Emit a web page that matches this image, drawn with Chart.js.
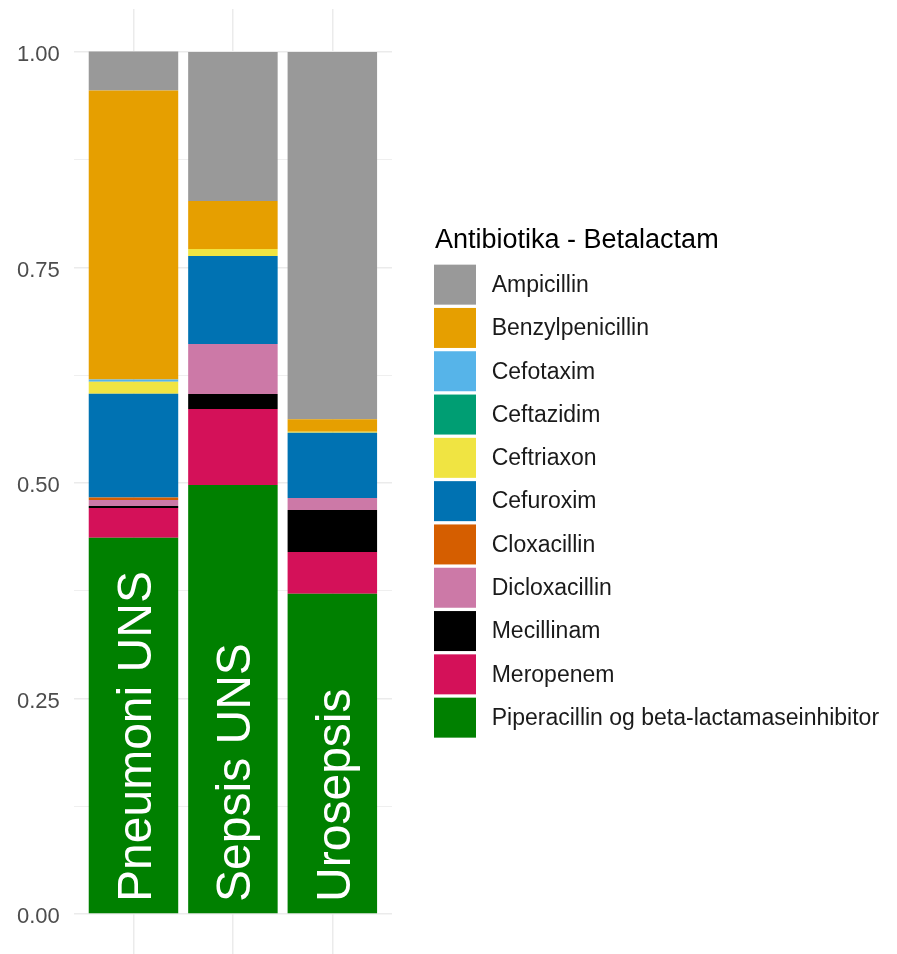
<!DOCTYPE html>
<html>
<head>
<meta charset="utf-8">
<script src="https://cdn.jsdelivr.net/npm/chart.js@4"></script>
<style>
  html, body { margin: 0; padding: 0; background: #fff; overflow: hidden; }
  #wrap { position: relative; width: 897px; height: 960px; }
</style>
</head>
<body>
<div id="wrap"><canvas id="chart"></canvas></div>
<script>
const categories = ['Pneumoni UNS', 'Sepsis UNS', 'Urosepsis'];
const legendTitle = 'Antibiotika - Betalactam';

const drugs = ['Ampicillin', 'Benzylpenicillin', 'Cefotaxim', 'Ceftazidim', 'Ceftriaxon', 'Cefuroxim',
  'Cloxacillin', 'Dicloxacillin', 'Mecillinam', 'Meropenem', 'Piperacillin og beta-lactamaseinhibitor'];
const drugColors = ['#999999', '#E69F00', '#56B4E9', '#009E73', '#F0E442', '#0072B2',
  '#D55E00', '#CC79A7', '#000000', '#D41159', '#008000'];

// share per category, same order as categories
const ampicillin = [0.0452, 0.1729, 0.4261];
const benzylpenicillin = [0.3353, 0.0557, 0.0144];
const cefotaxim = [0.0027, 0, 0];
const ceftazidim = [0, 0, 0];
const ceftriaxon = [0.0139, 0.0081, 0.0012];
const cefuroxim = [0.1203, 0.1021, 0.0758];
const cloxacillin = [0.0028, 0, 0];
const dicloxacillin = [0.0070, 0.0580, 0.0139];
const mecillinam = [0.0023, 0.0174, 0.0487];
const meropenem = [0.0345, 0.0882, 0.0484];
const piperacillin = [0.4366, 0.4977, 0.3716];

const yTicks = [0, 0.25, 0.5, 0.75, 1];

const series = [ampicillin, benzylpenicillin, cefotaxim, ceftazidim, ceftriaxon, cefuroxim,
  cloxacillin, dicloxacillin, mecillinam, meropenem, piperacillin];

// ggplot stacks the first level on top, chart.js stacks the first dataset at the bottom
const datasets = drugs.map((name, i) => ({
  label: name,
  data: series[i].map((v, j) => ({ x: j, y: v })),
  backgroundColor: drugColors[i],
  borderWidth: 0,
  categoryPercentage: 0.9,
  barPercentage: 1,
})).reverse();

const FONT = '"Liberation Sans", Arial, sans-serif';

// minor grid lines halfway between the labelled ticks
const yGrid = [];
yTicks.forEach((t, i) => {
  yGrid.push(t);
  if (i < yTicks.length - 1) yGrid.push((t + yTicks[i + 1]) / 2);
});

// no extra room for half tick labels, keep the panel where ggplot puts it
const noPad = (scale) => {
  scale.paddingTop = 0; scale.paddingBottom = 0;
  scale.paddingLeft = 0; scale.paddingRight = 0;
};

const barLabels = {
  id: 'barLabels',
  afterDatasetsDraw(chart) {
    const { ctx, scales: { x, y } } = chart;
    ctx.save();
    ctx.fillStyle = '#ffffff';
    ctx.font = '48px ' + FONT;
    ctx.textAlign = 'left';
    ctx.textBaseline = 'alphabetic';
    categories.forEach((c, i) => {
      ctx.save();
      ctx.translate(x.getPixelForValue(i) + 17.5, y.getPixelForValue(0) - 12);
      ctx.rotate(-Math.PI / 2);
      ctx.fillText(c, 0, 0);
      ctx.restore();
    });
    ctx.restore();
  }
};

const sideLegend = {
  id: 'sideLegend',
  afterDraw(chart) {
    const { ctx, chartArea } = chart;
    const left = chartArea.right + 42;
    const keyW = 42, keyH = 40, step = 43.3;
    const blockH = 36.3 + drugs.length * step - 3.3;
    const top = (chartArea.top + chartArea.bottom) / 2 - blockH / 2;
    ctx.save();
    ctx.fillStyle = '#000000';
    ctx.font = '27px ' + FONT;
    ctx.textBaseline = 'alphabetic';
    ctx.textAlign = 'left';
    ctx.fillText(legendTitle, left + 1, top + 20);
    ctx.font = '23px ' + FONT;
    ctx.textBaseline = 'middle';
    drugs.forEach((name, i) => {
      const ky = top + 36.3 + i * step;
      ctx.fillStyle = drugColors[i];
      ctx.fillRect(left, ky, keyW, keyH);
      ctx.fillStyle = '#1a1a1a';
      ctx.fillText(name, left + 57.7, ky + keyH / 2 + 1);
    });
    ctx.restore();
  }
};

new Chart(document.getElementById('chart'), {
  type: 'bar',
  data: { datasets },
  options: {
    responsive: true,
    maintainAspectRatio: false,
    animation: false,
    layout: { padding: { left: 3, right: 505, top: 9, bottom: 3 } },
    plugins: { legend: { display: false }, tooltip: { enabled: false } },
    scales: {
      x: {
        type: 'linear',
        stacked: true,
        offset: false,
        min: -0.6,
        max: categories.length - 0.4,
        afterBuildTicks: (scale) => { scale.ticks = categories.map((c, i) => ({ value: i })); },
        afterFit: (scale) => { noPad(scale); scale.height = 0; },
        ticks: { display: false },
        grid: { color: '#ebebeb', lineWidth: 1.5, drawTicks: false, offset: false },
        border: { display: false },
      },
      y: {
        stacked: true,
        min: -0.05,
        max: 1.05,
        afterBuildTicks: (scale) => { scale.ticks = yGrid.map(v => ({ value: v })); },
        afterFit: noPad,
        ticks: {
          padding: 14,
          labelOffset: 3,
          color: '#4d4d4d',
          font: { family: FONT, size: 22 },
          callback: (v) => yTicks.includes(v) ? v.toFixed(2) : '',
        },
        grid: {
          color: '#ebebeb',
          lineWidth: (ctx) => yTicks.includes(ctx.tick.value) ? 1.5 : 0.8,
          drawTicks: false,
        },
        border: { display: false },
      },
    },
  },
  plugins: [barLabels, sideLegend],
});
</script>
</body>
</html>
